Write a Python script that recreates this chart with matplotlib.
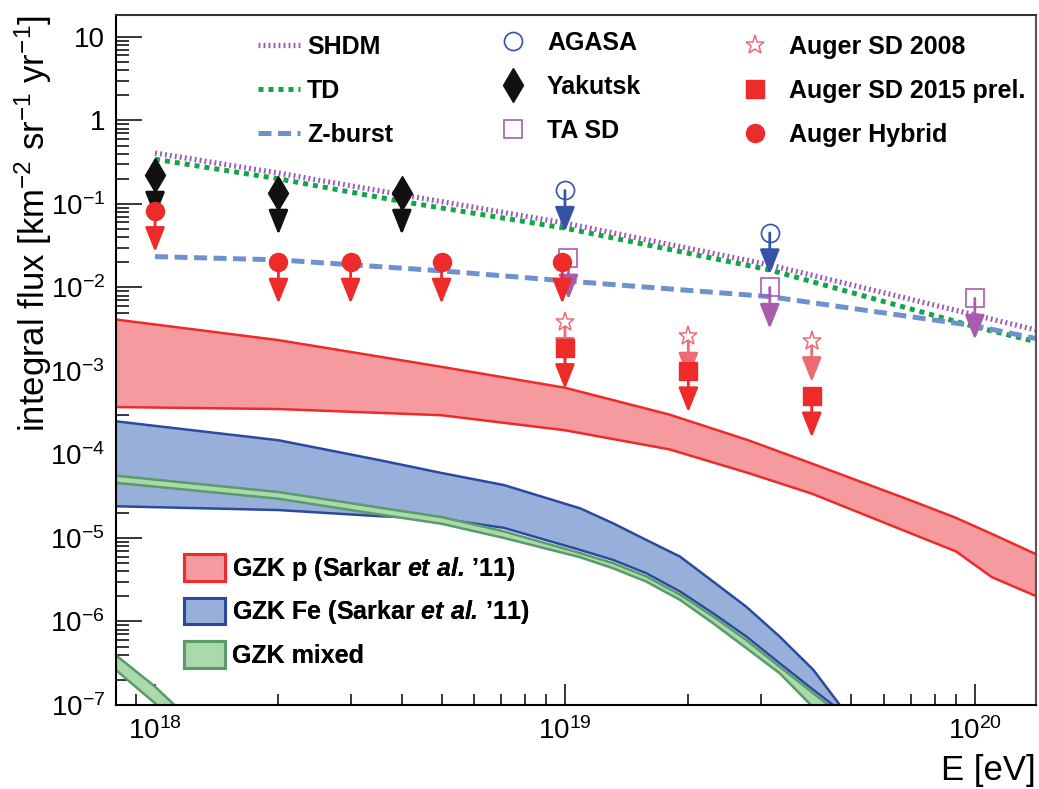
import numpy as np
import matplotlib
matplotlib.use("Agg")
import matplotlib.pyplot as plt
from matplotlib.lines import Line2D
from matplotlib.patches import Patch
from matplotlib.ticker import LogLocator, FixedLocator, FuncFormatter, NullFormatter

plt.rcParams.update({
    "font.family": ["Liberation Sans", "DejaVu Sans"],
    "mathtext.fontset": "custom",
    "mathtext.rm": "Liberation Sans",
    "mathtext.it": "Liberation Sans:italic",
    "mathtext.bf": "Liberation Sans:bold",
    "mathtext.bfit": "Liberation Sans:italic:bold",
    "axes.unicode_minus": False,
})

# top-down model predictions (integral flux, km^-2 sr^-1 yr^-1)
model_E = [1e18, 2e18, 4e18, 1e19, 3.16e19, 1e20, 1.41e20]
shdm_F = [0.407, 0.234, 0.129, 0.0589, 0.0186, 0.00468, 0.00309]
td_F = [0.343, 0.200, 0.107, 0.0513, 0.0162, 0.00339, 0.00224]
zburst_E = [1e18, 2e18, 5e18, 1e19, 3.16e19, 1e20, 1.41e20]
zburst_F = [0.0234, 0.0214, 0.0158, 0.0120, 0.00776, 0.00347, 0.00245]

# cosmogenic (GZK) photon bands
gzk_p_E = [7.9e17, 2e18, 5e18, 1e19, 1.8e19, 2.8e19, 4e19, 7e19, 9e19, 1.1e20, 1.45e20]
gzk_p_hi = [4.17e-3, 2.34e-3, 1.12e-3, 6.3e-4, 3.0e-4, 1.48e-4, 7.8e-5, 2.8e-5, 1.74e-5, 1.12e-5, 6.0e-6]
gzk_p_lo = [3.7e-4, 3.5e-4, 2.95e-4, 1.95e-4, 1.15e-4, 6.0e-5, 3.4e-5, 1.13e-5, 6.9e-6, 3.4e-6, 1.9e-6]

gzk_fe_E = [7.94e17, 2.0e18, 3.55e18, 5.0e18, 7.1e18, 1.09e19, 1.31e19, 1.58e19,
            1.91e19, 2.30e19, 2.77e19, 3.34e19, 4.04e19, 4.65e19, 5.25e19]
gzk_fe_hi = [2.51e-4, 1.48e-4, 8.5e-5, 6.0e-5, 4.3e-5, 2.26e-5, 1.50e-5, 9.46e-6,
             5.97e-6, 3.0e-6, 1.50e-6, 6.6e-7, 2.62e-7, 1.05e-7, 4.0e-8]
gzk_fe_lo = [2.4e-5, 2.16e-5, 1.82e-5, 1.7e-5, 1.32e-5, 7.18e-6, 5.46e-6, 3.78e-6,
             2.28e-6, 1.25e-6, 6.6e-7, 3.16e-7, 1.51e-7, 8.9e-8, 5.0e-8]
gzk_mix_hi = [5.6e-5, 3.55e-5, 2.3e-5, 1.78e-5, 1.2e-5, 6.6e-6, 5.0e-6, 3.47e-6,
              2.09e-6, 1.15e-6, 6.0e-7, 2.88e-7, 1.38e-7, 8.1e-8, 4.5e-8]
gzk_mix_lo = [4.6e-5, 2.95e-5, 1.9e-5, 1.48e-5, 1.0e-5, 5.87e-6, 4.34e-6, 3.0e-6,
              1.81e-6, 9.5e-7, 4.8e-7, 2.4e-7, 9.3e-8, 5.0e-8, 2.5e-8]
gzk_mix_low_E = [7.9e17, 1.0e18, 1.2e18]
gzk_mix_low_hi = [4.2e-7, 1.66e-7, 7.1e-8]
gzk_mix_low_lo = [2.8e-7, 1.05e-7, 3.5e-8]

# upper limits
agasa_E = [1e19, 3.16e19]
agasa_F = [0.145, 0.045]
yakutsk_E = [1e18, 2e18, 4e18]
yakutsk_F = [0.22, 0.134, 0.134]
tasd_E = [1.02e19, 3.16e19, 1e20]
tasd_F = [0.0224, 0.0100, 0.0074]
sd2008_E = [1e19, 2e19, 4e19]
sd2008_F = [3.9e-3, 2.6e-3, 2.3e-3]
sd2015_E = [1e19, 2e19, 4e19]
sd2015_F = [1.9e-3, 1.0e-3, 5.0e-4]
hybrid_E = [1e18, 2e18, 3e18, 5e18, 0.985e19]
hybrid_F = [0.083, 0.02, 0.02, 0.02, 0.02]

# labelled decades
x_decades = [1e18, 1e19, 1e20]
y_decades = [1e-7, 1e-6, 1e-5, 1e-4, 1e-3, 1e-2, 1e-1, 1, 10]

W, H = 1039, 789
fig = plt.figure(figsize=(W / 100, H / 100), dpi=100)
ax = fig.add_axes([116 / W, 1 - 705 / H, 920 / W, 690 / H])
ax.set_xscale("log")
ax.set_yscale("log")
ax.set_xlim(8.03e17, 1.41e20)
ax.set_ylim(1e-7, 18.3)
ax.set_axisbelow(True)

RED = "#ee2b2b"
PINK = "#f06a74"
BLUE = "#3652a6"
PURPLE = "#a95cae"
BLACK = "#111111"

# bands
ax.fill_between(gzk_p_E, gzk_p_lo, gzk_p_hi, facecolor="#f59a9e", edgecolor="none", zorder=2)
ax.plot(gzk_p_E, gzk_p_hi, color=RED, lw=1.8, zorder=2.1)
ax.plot(gzk_p_E, gzk_p_lo, color=RED, lw=1.8, zorder=2.1)

ax.fill_between(gzk_fe_E, gzk_fe_lo, gzk_fe_hi, facecolor="#98afda", edgecolor="none", zorder=2)
ax.plot(gzk_fe_E, gzk_fe_hi, color="#2a4aa0", lw=1.8, zorder=2.1)
ax.plot(gzk_fe_E, gzk_fe_lo, color="#2a4aa0", lw=1.8, zorder=2.1)

for E, lo, hi in [(gzk_fe_E, gzk_mix_lo, gzk_mix_hi),
                  (gzk_mix_low_E, gzk_mix_low_lo, gzk_mix_low_hi)]:
    ax.fill_between(E, lo, hi, facecolor="#aad9aa", edgecolor="none", zorder=2.2)
    ax.plot(E, hi, color="#5a9a6c", lw=1.8, zorder=2.3)
    ax.plot(E, lo, color="#5a9a6c", lw=1.8, zorder=2.3)

# model lines
l_shdm, = ax.plot(model_E, shdm_F, color="#9a5ab6", lw=3.8, ls=(0, (0.35, 0.6)),
                  dash_capstyle="butt", zorder=3)
l_td, = ax.plot(model_E, td_F, color="#14a548", lw=3.6, ls=(0, (1.0, 1.0)),
                dash_capstyle="butt", zorder=3)
l_zb, = ax.plot(zburst_E, zburst_F, color="#6f92cf", lw=3.6, ls=(0, (2.6, 1.3)),
                dash_capstyle="butt", zorder=3)

drop = 10 ** -0.495


def limits(E, F, acol, mk, zo, **mkw):
    for e, f in zip(E, F):
        ax.annotate("", xy=(e, f * drop), xytext=(e, f),
                    arrowprops=dict(arrowstyle="-|>,head_length=0.75,head_width=0.3",
                                    color=acol, lw=2, shrinkA=0, shrinkB=0,
                                    mutation_scale=20), zorder=zo)
    ax.plot(E, F, ls="none", marker=mk, zorder=zo + 0.5, **mkw)


limits(yakutsk_E, yakutsk_F, BLACK, "d", 4, ms=17, color=BLACK)
limits(agasa_E, agasa_F, BLUE, "o", 4, ms=13, mfc="none", mec=BLUE, mew=1.2)
limits(sd2008_E, sd2008_F, PINK, "*", 4, ms=14, mfc="white", mec=PINK, mew=1.1)
limits(sd2015_E, sd2015_F, RED, "s", 6, ms=12.5, color=RED)
limits(tasd_E, tasd_F, PURPLE, "s", 6, ms=13.5, mfc="none", mec=PURPLE, mew=1.2)
limits(hybrid_E, hybrid_F, RED, "o", 7, ms=13, color=RED)

# axes styling
ax.xaxis.set_major_locator(FixedLocator(x_decades))
ax.xaxis.set_minor_locator(LogLocator(base=10, subs=np.arange(2, 10), numticks=100))
ax.yaxis.set_major_locator(FixedLocator(y_decades))
ax.yaxis.set_minor_locator(LogLocator(base=10, subs=np.arange(2, 10), numticks=100))
ax.xaxis.set_minor_formatter(NullFormatter())
ax.yaxis.set_minor_formatter(NullFormatter())


def decade(v, pos):
    n = int(round(np.log10(v)))
    if n == 0:
        return "1"
    if n == 1:
        return "10"
    return r"$10^{%d}$" % n


ax.xaxis.set_major_formatter(FuncFormatter(decade))
ax.yaxis.set_major_formatter(FuncFormatter(decade))
ax.tick_params(axis="y", which="major", direction="in", length=19, width=1.1, pad=8, labelsize=20)
ax.tick_params(axis="y", which="minor", direction="in", length=9.5, width=1.1)
ax.tick_params(axis="x", which="major", direction="in", length=15, width=1.1, pad=9, labelsize=20)
ax.tick_params(axis="x", which="minor", direction="in", length=8, width=1.1)
for s in ax.spines.values():
    s.set_linewidth(1.5)
    s.set_zorder(8)
ax.spines["top"].set_color("#333333")
ax.spines["right"].set_color("#555555")

ax.set_ylabel(r"integral flux [km$^{-2}$ sr$^{-1}$ yr$^{-1}$]", fontsize=25, loc="top")
ax.yaxis.set_label_coords(-0.0674, 1.0)
ax.set_xlabel("E [eV]", fontsize=25, loc="right")
ax.xaxis.set_label_coords(1.0, -0.071)

# legends
bold = dict(family="Liberation Sans", weight="bold", size=18)


def legend(handles, labels, x, y, **kw):
    leg = ax.legend(handles, labels, loc="center left", bbox_to_anchor=(x / W, 1 - y / H),
                    bbox_transform=fig.transFigure, frameon=False, borderpad=0,
                    borderaxespad=0, prop=bold, **kw)
    ax.add_artist(leg)
    return leg


legend([l_shdm, l_td, l_zb], ["SHDM", "TD", "Z-burst"], 258, 91,
       handlelength=1.68, handletextpad=0.28, labelspacing=0.8)

h_agasa = Line2D([], [], ls="none", marker="o", ms=13, mfc="none", mec=BLUE, mew=1.2)
h_yak = Line2D([], [], ls="none", marker="d", ms=17, color=BLACK)
h_ta = Line2D([], [], ls="none", marker="s", ms=13.5, mfc="none", mec=PURPLE, mew=1.2)
legend([h_agasa, h_yak, h_ta], ["AGASA", "Yakutsk", "TA SD"], 500.5, 87,
       handlelength=1.0, handletextpad=0.86, labelspacing=0.8, numpoints=1)

h_08 = Line2D([], [], ls="none", marker="*", ms=14, mfc="white", mec=PINK, mew=1.1)
h_15 = Line2D([], [], ls="none", marker="s", ms=12.5, color=RED)
h_hy = Line2D([], [], ls="none", marker="o", ms=13, color=RED)
legend([h_08, h_15, h_hy], ["Auger SD 2008", "Auger SD 2015 prel.", "Auger Hybrid"], 742.5, 91,
       handlelength=1.0, handletextpad=0.86, labelspacing=0.8, numpoints=1)

p_p = Patch(facecolor="#f59a9e", edgecolor=RED, lw=2.2)
p_fe = Patch(facecolor="#98afda", edgecolor="#2a4aa0", lw=2.2)
p_mix = Patch(facecolor="#aad9aa", edgecolor="#5a9a6c", lw=2.2)
legend([p_p, p_fe, p_mix],
       [r"GZK p (Sarkar $\mathbfit{et\ al.}\,$’11)",
        r"GZK Fe (Sarkar $\mathbfit{et\ al.}\,$’11)",
        "GZK mixed"], 184, 611,
       handlelength=1.64, handleheight=1.28, handletextpad=0.28, labelspacing=0.6)

fig.savefig("out.png", dpi=100, facecolor="white")
